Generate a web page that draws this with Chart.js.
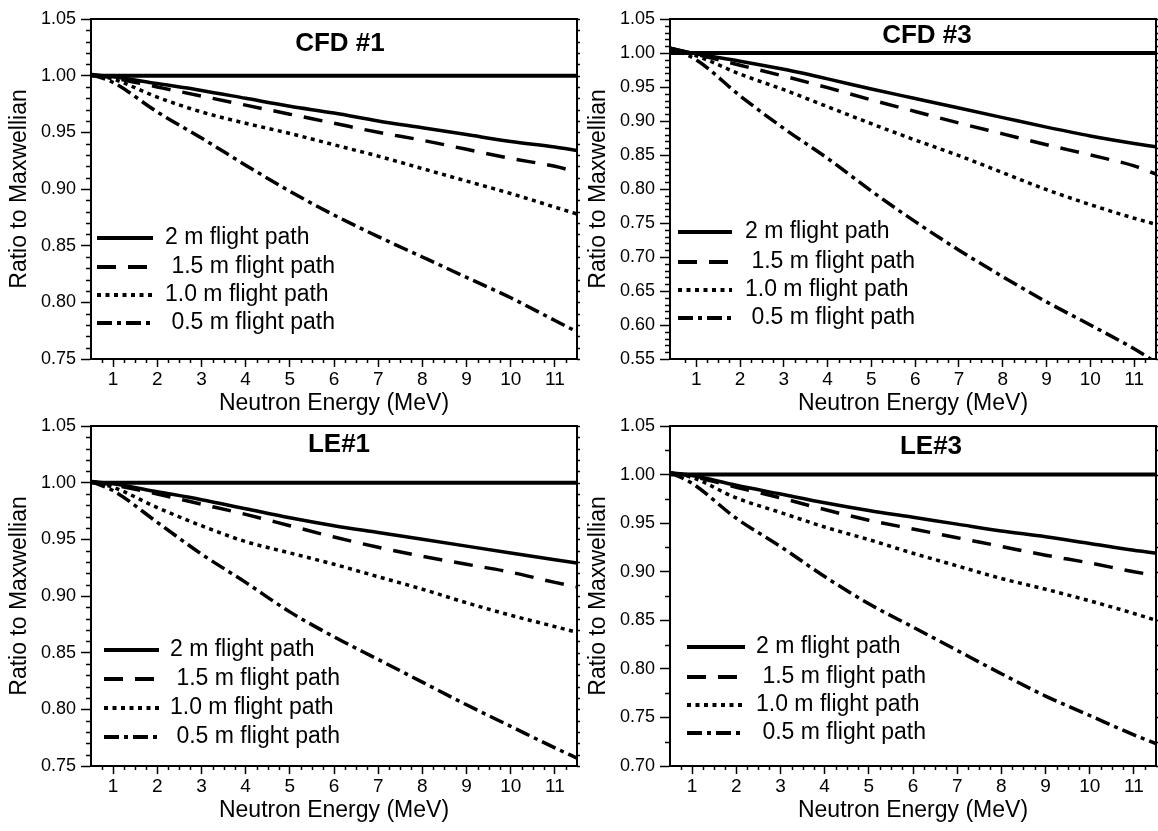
<!DOCTYPE html>
<html>
<head>
<meta charset="utf-8">
<script src="https://cdn.jsdelivr.net/npm/chart.js@4/dist/chart.umd.min.js"></script>
<style>
html,body{margin:0;padding:0;background:#fff;overflow:hidden;width:1158px;height:831px;position:relative}
.p{position:absolute;width:590px;height:420px}
</style>
</head>
<body>
<div class="p" style="left:0;top:0"><canvas id="c1"></canvas></div>
<div class="p" style="left:579px;top:0"><canvas id="c2"></canvas></div>
<div class="p" style="left:0;top:407px"><canvas id="c3"></canvas></div>
<div class="p" style="left:579px;top:407px"><canvas id="c4"></canvas></div>
<script>
// ---------- DATA ----------
const energy   = [0.5, 1, 2, 3, 4, 5, 6, 7, 8, 9, 10, 11, 11.5];
const energyC3 = [0.4, 1, 2, 3, 4, 5, 6, 7, 8, 9, 10, 11, 11.5];
const legendLabels = ["2 m flight path", " 1.5 m flight path", "1.0 m flight path", " 0.5 m flight path"];
const panelTitles = ["CFD #1", "CFD #3", "LE#1", "LE#3"];
const xTitle = "Neutron Energy (MeV)";
const yTitle = "Ratio to Maxwellian";

// CFD #1
const cfd1_2m  = [1.001,0.999,0.993,0.987,0.980,0.973,0.967,0.960,0.954,0.948,0.942,0.937,0.934];
const cfd1_15m = [1.001,0.998,0.990,0.982,0.974,0.966,0.958,0.950,0.943,0.935,0.927,0.920,0.915];
const cfd1_10m = [1.001,0.997,0.981,0.968,0.958,0.949,0.939,0.929,0.918,0.907,0.896,0.884,0.878];
const cfd1_05m = [1.001,0.994,0.968,0.945,0.921,0.898,0.877,0.858,0.840,0.822,0.804,0.784,0.774];
// CFD #3
const cfd3_2m  = [1.007,0.999,0.988,0.976,0.962,0.947,0.933,0.919,0.905,0.891,0.878,0.867,0.862];
const cfd3_15m = [1.007,0.998,0.982,0.966,0.949,0.931,0.914,0.897,0.881,0.865,0.850,0.834,0.822];
const cfd3_10m = [1.007,0.996,0.969,0.946,0.921,0.896,0.872,0.849,0.824,0.799,0.777,0.757,0.748];
const cfd3_05m = [1.007,0.990,0.937,0.889,0.845,0.797,0.752,0.710,0.671,0.634,0.600,0.565,0.545];
// LE#1
const le1_2m  = [1.001,0.999,0.992,0.985,0.977,0.969,0.962,0.956,0.950,0.944,0.938,0.932,0.929];
const le1_15m = [1.001,0.998,0.990,0.981,0.972,0.962,0.952,0.943,0.935,0.928,0.921,0.912,0.908];
const le1_10m = [1.001,0.996,0.978,0.962,0.948,0.938,0.928,0.917,0.906,0.894,0.883,0.873,0.868];
const le1_05m = [1.001,0.993,0.965,0.937,0.912,0.886,0.864,0.844,0.824,0.804,0.785,0.766,0.757];
// LE#3
const le3_2m  = [1.002,0.999,0.989,0.980,0.971,0.963,0.956,0.949,0.942,0.936,0.929,0.922,0.919];
const le3_15m = [1.002,0.998,0.987,0.976,0.964,0.953,0.944,0.935,0.926,0.917,0.909,0.900,0.896];
const le3_10m = [1.002,0.997,0.976,0.961,0.946,0.933,0.919,0.906,0.893,0.882,0.870,0.857,0.850];
const le3_05m = [1.002,0.991,0.955,0.926,0.895,0.867,0.843,0.819,0.795,0.772,0.752,0.732,0.723];

// axis ranges
const xRanges = [[0.5, 11.5], [0.4, 11.5], [0.5, 11.5], [0.5, 11.5]];
const yRanges = [[0.75, 1.05], [0.55, 1.05], [0.75, 1.05], [0.70, 1.05]];
const yMinorSteps = [0.01, 0.01, 0.01, 0.025];

// ---------- STYLE ----------
const FONT = '"Liberation Sans", Arial, Helvetica, sans-serif';
Chart.defaults.font.family = FONT;
Chart.defaults.color = '#000';

const dashStyles = [[], [19, 12], [4, 4.5], [15, 5, 4, 5]];

const isMajorX = v => Math.abs(v - Math.round(v)) < 1e-6;
const isMajorY = v => Math.abs(v * 20 - Math.round(v * 20)) < 1e-6;

const panelPlugin = {
  id: 'panel',
  afterDraw(chart) {
    const o = chart.options.plugins.panel;
    const {ctx, chartArea: a} = chart;
    const xs = chart.scales.x, ys = chart.scales.y;
    ctx.save();
    ctx.strokeStyle = '#000';
    // top & right frame
    ctx.lineWidth = 2;
    ctx.beginPath();
    ctx.moveTo(a.left, a.top); ctx.lineTo(a.right, a.top); ctx.lineTo(a.right, a.bottom);
    ctx.stroke();
    // minor ticks
    ctx.lineWidth = 1.5;
    ctx.beginPath();
    xs.ticks.forEach(t => {
      if (isMajorX(t.value)) return;
      if (Math.abs(t.value - xs.min) < 1e-6 || Math.abs(t.value - xs.max) < 1e-6) return;
      const px = Math.round(xs.getPixelForValue(t.value)) + 0.5;
      ctx.moveTo(px, a.bottom); ctx.lineTo(px, a.bottom + 4);
    });
    ys.ticks.forEach(t => {
      const py = Math.round(ys.getPixelForValue(t.value)) + 0.5;
      if (!isMajorY(t.value)) { ctx.moveTo(a.left, py); ctx.lineTo(a.left - 5, py); }
      ctx.moveTo(a.right, py); ctx.lineTo(a.right + 3, py);
    });
    ctx.stroke();
    // title
    ctx.fillStyle = '#000';
    ctx.font = 'bold 26px ' + FONT;
    ctx.textAlign = 'center';
    ctx.textBaseline = 'middle';
    ctx.fillText(o.title, (a.left + a.right) / 2 + o.titleDx, a.top + o.titleDy);
    // legend
    ctx.font = '23px ' + FONT;
    ctx.textAlign = 'left';
    let row = 0;
    chart.data.datasets.forEach(ds => {
      if (ds.noLegend) return;
      const yy = a.bottom - o.legendRows[row];
      ctx.lineWidth = 4;
      ctx.setLineDash(ds.borderDash || []);
      ctx.beginPath();
      ctx.moveTo(a.left + o.lineX0, yy); ctx.lineTo(a.left + o.lineX1, yy);
      ctx.stroke();
      ctx.setLineDash([]);
      ctx.fillText(ds.label, a.left + o.textX, yy);
      row++;
    });
    ctx.restore();
  }
};

function pts(xs, ys) { return xs.map((x, i) => ({x: x, y: ys[i]})); }

function makeChart(id, idx, xsArr, seriesArr, panelOpts) {
  const [xmin, xmax] = xRanges[idx];
  const [ymin, ymax] = yRanges[idx];
  const datasets = seriesArr.map((s, i) => ({
    label: legendLabels[i],
    data: pts(xsArr, s),
    borderColor: '#000',
    borderWidth: 3.5,
    borderDash: dashStyles[i],
    pointRadius: 0,
    fill: false,
    cubicInterpolationMode: 'monotone'
  }));
  datasets.push({
    label: 'Maxwellian',
    noLegend: true,
    data: [{x: xmin, y: 1}, {x: xmax, y: 1}],
    borderColor: '#000',
    borderWidth: 4,
    pointRadius: 0,
    fill: false
  });
  return new Chart(document.getElementById(id), {
    type: 'line',
    data: {datasets},
    plugins: [panelPlugin],
    options: {
      responsive: true,
      maintainAspectRatio: false,
      animation: false,
      devicePixelRatio: 1,
      layout: {padding: {top: 19, right: 13, bottom: 0, left: 0}},
      plugins: {
        legend: {display: false},
        title: {display: false},
        tooltip: {enabled: false},
        panel: panelOpts
      },
      scales: {
        x: {
          type: 'linear', position: 'bottom', min: xmin, max: xmax,
          afterFit(s) { s.height = 61; },
          grid: {drawOnChartArea: false, tickLength: 8, tickWidth: 1.5,
                 tickColor: c => (c.tick && isMajorX(c.tick.value)) ? '#000' : 'rgba(0,0,0,0)'},
          border: {display: true, color: '#000', width: 2},
          ticks: {stepSize: 0.25, autoSkip: false, maxRotation: 0, minRotation: 0, padding: 1,
                  color: '#000', font: {size: 19},
                  callback: v => isMajorX(v) ? String(Math.round(v)) : ''},
          title: {display: true, text: xTitle, color: '#000', font: {size: 23},
                  padding: {top: 0, bottom: 3}}
        },
        y: {
          type: 'linear', position: 'left', min: ymin, max: ymax,
          afterFit(s) { s.width = 91; },
          grid: {drawOnChartArea: false, tickLength: 10, tickWidth: 1.5,
                 tickColor: c => (c.tick && isMajorY(c.tick.value)) ? '#000' : 'rgba(0,0,0,0)'},
          border: {display: true, color: '#000', width: 2},
          ticks: {stepSize: yMinorSteps[idx], autoSkip: false, padding: 5, color: '#000',
                  font: {size: 18},
                  callback: v => isMajorY(v) ? v.toFixed(2) : ''},
          title: {display: true, text: yTitle, color: '#000', font: {size: 23},
                  padding: {top: 6, bottom: 0}}
        }
      }
    }
  });
}

makeChart('c1', 0, energy, [cfd1_2m, cfd1_15m, cfd1_10m, cfd1_05m],
  {title: panelTitles[0], titleDx: 6, titleDy: 25, legendRows: [121, 92, 64, 36], lineX0: 6, lineX1: 62, textX: 74});
makeChart('c2', 1, energyC3, [cfd3_2m, cfd3_15m, cfd3_10m, cfd3_05m],
  {title: panelTitles[1], titleDx: 14, titleDy: 17, legendRows: [127, 97, 69, 41], lineX0: 8, lineX1: 62, textX: 75});
makeChart('c3', 2, energy, [le1_2m, le1_15m, le1_10m, le1_05m],
  {title: panelTitles[2], titleDx: 5, titleDy: 19, legendRows: [116, 87, 58, 29], lineX0: 13, lineX1: 68, textX: 79});
makeChart('c4', 3, energy, [le3_2m, le3_15m, le3_10m, le3_05m],
  {title: panelTitles[3], titleDx: 18, titleDy: 21, legendRows: [119, 89, 61, 33], lineX0: 17, lineX1: 75, textX: 86});
</script>
</body>
</html>
